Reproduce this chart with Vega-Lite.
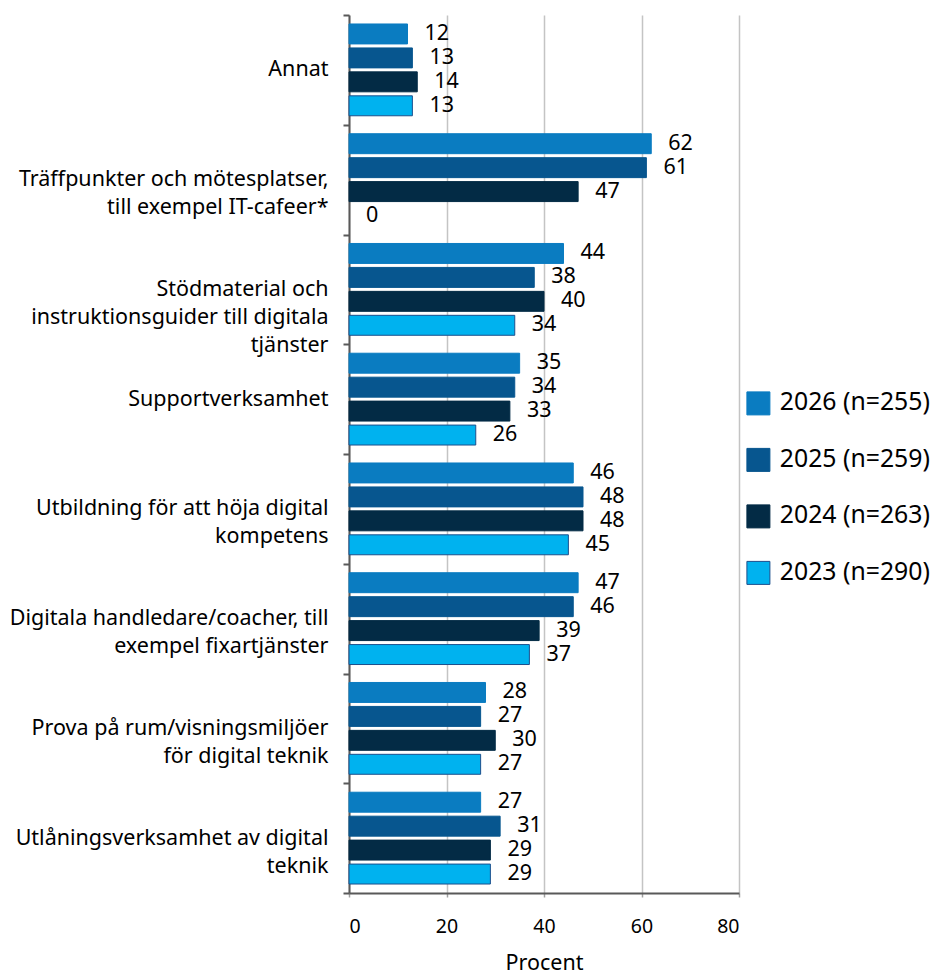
{
  "$schema": "https://vega.github.io/schema/vega-lite/v6.json",
  "width": 390,
  "height": 878,
  "autosize": {"type": "none"},
  "padding": {"left": 349, "top": 15, "right": 192, "bottom": 79},
  "background": "white",
  "config": {"font": "Noto Sans", "view": {"stroke": null}},
  "data": {
    "values": [
      {"cat": "Annat", "year": "2026 (n=255)", "value": 12},
      {"cat": "Annat", "year": "2025 (n=259)", "value": 13},
      {"cat": "Annat", "year": "2024 (n=263)", "value": 14},
      {"cat": "Annat", "year": "2023 (n=290)", "value": 13},
      {"cat": "Träffpunkter och mötesplatser,\ntill exempel IT-cafeer*", "year": "2026 (n=255)", "value": 62},
      {"cat": "Träffpunkter och mötesplatser,\ntill exempel IT-cafeer*", "year": "2025 (n=259)", "value": 61},
      {"cat": "Träffpunkter och mötesplatser,\ntill exempel IT-cafeer*", "year": "2024 (n=263)", "value": 47},
      {"cat": "Träffpunkter och mötesplatser,\ntill exempel IT-cafeer*", "year": "2023 (n=290)", "value": 0},
      {"cat": "Stödmaterial och\ninstruktionsguider till digitala\ntjänster", "year": "2026 (n=255)", "value": 44},
      {"cat": "Stödmaterial och\ninstruktionsguider till digitala\ntjänster", "year": "2025 (n=259)", "value": 38},
      {"cat": "Stödmaterial och\ninstruktionsguider till digitala\ntjänster", "year": "2024 (n=263)", "value": 40},
      {"cat": "Stödmaterial och\ninstruktionsguider till digitala\ntjänster", "year": "2023 (n=290)", "value": 34},
      {"cat": "Supportverksamhet", "year": "2026 (n=255)", "value": 35},
      {"cat": "Supportverksamhet", "year": "2025 (n=259)", "value": 34},
      {"cat": "Supportverksamhet", "year": "2024 (n=263)", "value": 33},
      {"cat": "Supportverksamhet", "year": "2023 (n=290)", "value": 26},
      {"cat": "Utbildning för att höja digital\nkompetens", "year": "2026 (n=255)", "value": 46},
      {"cat": "Utbildning för att höja digital\nkompetens", "year": "2025 (n=259)", "value": 48},
      {"cat": "Utbildning för att höja digital\nkompetens", "year": "2024 (n=263)", "value": 48},
      {"cat": "Utbildning för att höja digital\nkompetens", "year": "2023 (n=290)", "value": 45},
      {"cat": "Digitala handledare/coacher, till\nexempel fixartjänster", "year": "2026 (n=255)", "value": 47},
      {"cat": "Digitala handledare/coacher, till\nexempel fixartjänster", "year": "2025 (n=259)", "value": 46},
      {"cat": "Digitala handledare/coacher, till\nexempel fixartjänster", "year": "2024 (n=263)", "value": 39},
      {"cat": "Digitala handledare/coacher, till\nexempel fixartjänster", "year": "2023 (n=290)", "value": 37},
      {"cat": "Prova på rum/visningsmiljöer\nför digital teknik", "year": "2026 (n=255)", "value": 28},
      {"cat": "Prova på rum/visningsmiljöer\nför digital teknik", "year": "2025 (n=259)", "value": 27},
      {"cat": "Prova på rum/visningsmiljöer\nför digital teknik", "year": "2024 (n=263)", "value": 30},
      {"cat": "Prova på rum/visningsmiljöer\nför digital teknik", "year": "2023 (n=290)", "value": 27},
      {"cat": "Utlåningsverksamhet av digital\nteknik", "year": "2026 (n=255)", "value": 27},
      {"cat": "Utlåningsverksamhet av digital\nteknik", "year": "2025 (n=259)", "value": 31},
      {"cat": "Utlåningsverksamhet av digital\nteknik", "year": "2024 (n=263)", "value": 29},
      {"cat": "Utlåningsverksamhet av digital\nteknik", "year": "2023 (n=290)", "value": 29}
    ]
  },
  "encoding": {
    "y": {
      "field": "cat",
      "type": "nominal",
      "sort": null,
      "scale": {"paddingInner": 0, "paddingOuter": 0},
      "axis": {
        "title": null,
        "domainColor": "#595959",
        "domainWidth": 2,
        "tickColor": "#595959",
        "tickWidth": 2,
        "tickSize": 6,
        "tickBand": "extent",
        "labelFont": "Noto Sans",
        "labelFontSize": 21.5,
        "labelColor": "#000000",
        "labelPadding": 15,
        "labelAlign": "right",
        "labelBaseline": "middle",
        "labelLineHeight": 28,
        "labelLimit": 500,
        "labelExpr": "split(datum.label, '\\n')"
      }
    },
    "yOffset": {
      "field": "year",
      "type": "nominal",
      "sort": ["2026 (n=255)", "2025 (n=259)", "2024 (n=263)", "2023 (n=290)"],
      "scale": {"paddingInner": 0.1667, "paddingOuter": 0.375}
    },
    "x": {
      "field": "value",
      "type": "quantitative",
      "scale": {"domain": [0, 80]},
      "axis": {
        "title": "Procent",
        "values": [0, 20, 40, 60, 80],
        "grid": true,
        "gridColor": "#C4C4C4",
        "gridWidth": 1.5,
        "domainColor": "#595959",
        "domainWidth": 2,
        "tickColor": "#A0A0A0",
        "tickWidth": 1.5,
        "tickSize": 4,
        "labelFont": "Noto Sans",
        "labelFontSize": 19.5,
        "labelColor": "#000000",
        "labelPadding": 20,
        "titleFont": "Noto Sans",
        "titleFontSize": 21.5,
        "titleFontWeight": "normal",
        "titleColor": "#000000",
        "titlePadding": 17
      }
    }
  },
  "layer": [
    {
      "mark": {"type": "bar", "strokeWidth": 1},
      "encoding": {
        "fill": {
          "field": "year",
          "type": "nominal",
          "scale": {
            "domain": ["2026 (n=255)", "2025 (n=259)", "2024 (n=263)", "2023 (n=290)"],
            "range": ["#0A7CC1", "#07568F", "#032B45", "#00B2EF"]
          },
          "legend": {
            "orient": "none",
            "legendX": 397,
            "legendY": 376,
            "title": null,
            "padding": 0,
            "symbolType": "square",
            "symbolSize": 529,
            "symbolStrokeWidth": 1,
            "labelFont": "Noto Sans",
            "labelFontSize": 24.8,
            "labelColor": "#000000",
            "labelOffset": 9,
            "rowPadding": 28.5
          }
        },
        "stroke": {
          "field": "year",
          "type": "nominal",
          "scale": {
            "domain": ["2026 (n=255)", "2025 (n=259)", "2024 (n=263)", "2023 (n=290)"],
            "range": ["#0A7CC1", "#07568F", "#032B45", "#1C4F8C"]
          },
          "legend": null
        },
        "strokeOpacity": {
          "condition": {"test": "datum.value == 0", "value": 0},
          "value": 1
        }
      }
    },
    {
      "mark": {"type": "text", "align": "left", "baseline": "middle", "dx": 17, "font": "Noto Sans", "fontSize": 21.5, "color": "#000000"},
      "encoding": {"text": {"field": "value", "type": "quantitative"}}
    }
  ]
}
